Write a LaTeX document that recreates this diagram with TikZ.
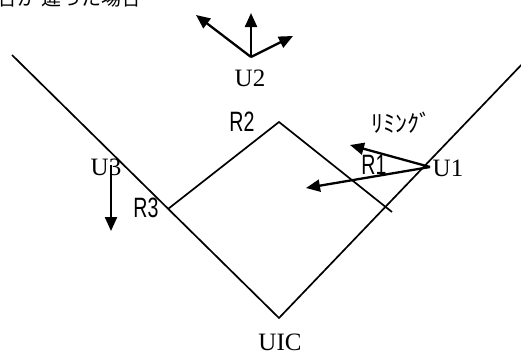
\documentclass[tikz,border=0pt]{standalone}
\usepackage{fontspec}
\setmainfont{Liberation Serif}
\newfontfamily\jpfont{Noto Sans CJK JP}
\newfontfamily\rfont[FakeStretch=0.7]{Liberation Sans}
\usetikzlibrary{arrows.meta}
\begin{document}
\begin{tikzpicture}[x=1pt,y=-1pt,
  vline/.style={line width=1.7pt},
  arr/.style={line width=2.3pt,-{Triangle[length=14pt,width=12pt]}},
  ulab/.style={font=\fontsize{25}{25}\selectfont,inner sep=0pt},
  rlab/.style={font=\rfont\fontsize{28}{28}\selectfont,inner sep=0pt},
  jlab/.style={font=\jpfont\fontsize{24}{24}\selectfont,inner sep=0pt}]
\useasboundingbox (0,0) rectangle (521,354);
\clip (0,0) rectangle (521,354);
% top clipped caption
\node[font=\jpfont\fontsize{20}{20}\selectfont,anchor=base west,inner sep=0pt] (cap) at (-3,5) {合が\ 違った場合};
% V shape
\coordinate (vl) at (12,55);
\coordinate (uic) at (279,318);
\coordinate (vr) at (526,60);
\draw[vline] (vl) -- (uic) -- (vr);
% diamond
\coordinate (r3) at (168,209);
\coordinate (r2) at (279,122);
\coordinate (r1e) at (392,212);
\draw[vline] (r3) -- (r2) -- (r1e);
% U1 arrows
\coordinate (u1) at (430,167);
\coordinate (t1) at (350,145);
\coordinate (t2) at (306,188);
\draw[arr] (u1) -- (t1);
\draw[arr] (u1) -- (t2);
% U2 arrows
\coordinate (u2) at (251,57);
\coordinate (u2a) at (251,13);
\coordinate (u2b) at (196,15);
\coordinate (u2c) at (293,36);
\draw[arr] (u2) -- (u2a);
\draw[arr] (u2) -- (u2b);
\draw[arr] (u2) -- (u2c);
% U3 arrow
\coordinate (u3) at (111,165);
\coordinate (u3t) at (111,231);
\draw[arr] (u3) -- (u3t);
% labels
\node[ulab] (lu1) at (448,168) {U1};
\node[ulab] (lu2) at (250,78) {U2};
\node[ulab] (lu3) at (106,167) {U3};
\node[ulab] (luic) at (280,342) {UIC};
\node[rlab] (lr1) at (374,165) {R1};
\node[rlab] (lr2) at (242,122) {R2};
\node[rlab] (lr3) at (146,208) {R3};
\node[jlab] (lrim) at (401,123) {ﾘﾐﾝｸﾞ};
\end{tikzpicture}
\end{document}
